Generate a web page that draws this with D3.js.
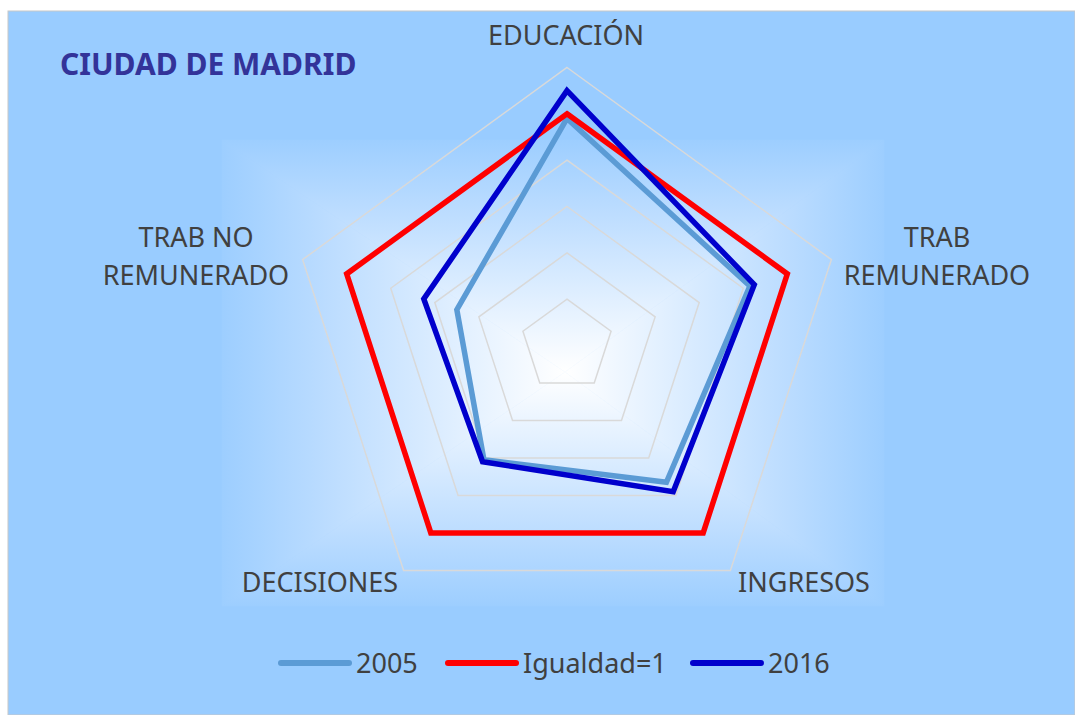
<!DOCTYPE html>
<html>
<head>
<meta charset="utf-8">
<script src="https://cdn.jsdelivr.net/npm/d3@7"></script>
<style>
	body { margin: 0; background: #fff; }
	text { font-family: "Noto Sans", "Open Sans", sans-serif; }
</style>
</head>
<body>
<svg id="chart" width="1075" height="715"></svg>
<script>
// axes, clockwise from the top
var aAxes = ["EDUCACIÓN", "TRAB REMUNERADO", "INGRESOS", "DECISIONES", "TRAB NO REMUNERADO"];
var aSeriesNames = ["2005", "Igualdad=1", "2016"];
var a2005 = [0.98, 0.83, 0.73, 0.61, 0.50];
var aIgualdad = [1, 1, 1, 1, 1];
var a2016 = [1.10, 0.85, 0.78, 0.62, 0.65];
var aRingValues = [0.2, 0.4, 0.6, 0.8, 1.0, 1.2];

var oColors = {"2005": "#5b9bd5", "Igualdad=1": "#ff0000", "2016": "#0000cc"};

var $svg = d3.select("#chart"),
	cx = 567,
	cy = 345.5,
	fRadius = 278;

var rScale = d3.scaleLinear().domain([0, 1.2]).range([0, fRadius]);
var aScale = d3.scalePoint().domain(aAxes.concat(["_end"])).range([0, 2 * Math.PI]);

function point(sAxis, v) {
	var a = aScale(sAxis);
	return [cx + rScale(v) * Math.sin(a), cy - rScale(v) * Math.cos(a)];
}

// background
$svg.append("rect")
	.attr("x", 8).attr("y", 11).attr("width", 1075 - 8).attr("height", 715 - 11)
	.attr("fill", "#99ccff").attr("stroke", "#c8c8c8").attr("stroke-width", 1);

// plot area glow: rectangular gradient from the centre, built from 4 wedges
var oGlow = {x0: 222, x1: 884, y0: 140, y1: 606, cx: 565, cy: 372};
var $defs = $svg.append("defs");
var aWedges = [
	{id: "gTop", pts: [[oGlow.x0, oGlow.y0], [oGlow.x1, oGlow.y0]], end: [oGlow.cx, oGlow.y0]},
	{id: "gRight", pts: [[oGlow.x1, oGlow.y0], [oGlow.x1, oGlow.y1]], end: [oGlow.x1, oGlow.cy]},
	{id: "gBottom", pts: [[oGlow.x1, oGlow.y1], [oGlow.x0, oGlow.y1]], end: [oGlow.cx, oGlow.y1]},
	{id: "gLeft", pts: [[oGlow.x0, oGlow.y1], [oGlow.x0, oGlow.y0]], end: [oGlow.x0, oGlow.cy]}
];
aWedges.forEach(function (w) {
	var $g = $defs.append("linearGradient")
		.attr("id", w.id)
		.attr("gradientUnits", "userSpaceOnUse")
		.attr("x1", oGlow.cx).attr("y1", oGlow.cy)
		.attr("x2", w.end[0]).attr("y2", w.end[1]);
	$g.append("stop").attr("offset", "0").attr("stop-color", "#ffffff");
	$g.append("stop").attr("offset", "0.3").attr("stop-color", "#e2f0ff");
	$g.append("stop").attr("offset", "0.7").attr("stop-color", "#bbdcff");
	$g.append("stop").attr("offset", "1").attr("stop-color", "#9dceff");
});
$svg.append("g").selectAll("path")
	.data(aWedges)
	.enter().append("path")
	.attr("d", function (w) {
		return d3.line()([[oGlow.cx, oGlow.cy], w.pts[0], w.pts[1]]) + "Z";
	})
	.attr("fill", function (w) { return "url(#" + w.id + ")"; })
	.attr("stroke", function (w) { return "url(#" + w.id + ")"; })
	.attr("stroke-width", 0.6);

// grid rings
var line = d3.line().curve(d3.curveLinearClosed);
$svg.append("g").selectAll("path")
	.data(aRingValues)
	.enter().append("path")
	.attr("d", function (v) {
		return line(aAxes.map(function (s) { return point(s, v); }));
	})
	.attr("fill", "none")
	.attr("stroke", "#d9d9d9")
	.attr("stroke-width", 1.5);

// series
var aSeries = [
	{name: "2005", values: a2005},
	{name: "Igualdad=1", values: aIgualdad},
	{name: "2016", values: a2016}
];
$svg.append("g").selectAll("path")
	.data(aSeries)
	.enter().append("path")
	.attr("d", function (d) {
		return line(aAxes.map(function (s, i) { return point(s, d.values[i]); }));
	})
	.attr("fill", "none")
	.attr("stroke", function (d) { return oColors[d.name]; })
	.attr("stroke-width", 5.5)
	.attr("stroke-linejoin", "miter");

// axis labels
var aLabelPos = [
	{lines: ["EDUCACIÓN"], x: 566, y: 45},
	{lines: ["TRAB", "REMUNERADO"], x: 937, y: 247},
	{lines: ["INGRESOS"], x: 804, y: 592},
	{lines: ["DECISIONES"], x: 320, y: 592},
	{lines: ["TRAB NO", "REMUNERADO"], x: 196, y: 247}
];
var $labels = $svg.append("g").selectAll("text")
	.data(aLabelPos)
	.enter().append("text")
	.attr("text-anchor", "middle")
	.attr("font-size", 27)
	.attr("fill", "#404040");
$labels.selectAll("tspan")
	.data(function (d) { return d.lines.map(function (l) { return {t: l, x: d.x, y: d.y}; }); })
	.enter().append("tspan")
	.attr("x", function (d) { return d.x; })
	.attr("y", function (d, i) { return d.y + i * 38; })
	.text(function (d) { return d.t; });

// title
$svg.append("text")
	.attr("x", 60).attr("y", 75)
	.attr("font-size", 30)
	.attr("font-weight", "bold")
	.attr("fill", "#333399")
	.text("CIUDAD DE MADRID");

// legend
var aLegendX = [279, 446, 691];
var $legend = $svg.append("g").selectAll("g")
	.data(aSeriesNames)
	.enter().append("g")
	.attr("transform", function (d, i) { return "translate(" + aLegendX[i] + ",663)"; });
$legend.append("line")
	.attr("x1", 2).attr("x2", 70)
	.attr("stroke", function (d) { return oColors[d]; })
	.attr("stroke-width", 6)
	.attr("stroke-linecap", "round");
$legend.append("text")
	.attr("x", 77).attr("y", 10)
	.attr("font-size", 27)
	.attr("fill", "#404040")
	.text(function (d) { return d; });
</script>
</body>
</html>
